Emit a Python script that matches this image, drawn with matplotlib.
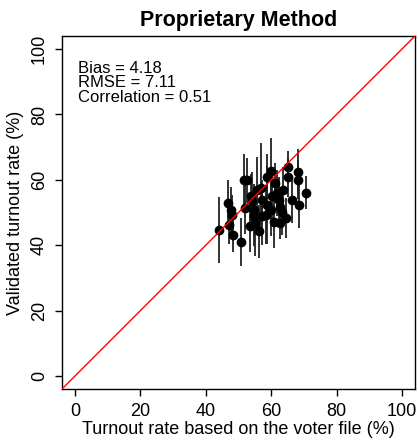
import matplotlib
matplotlib.use("Agg")
import matplotlib.pyplot as plt

plt.rcParams["font.family"] = ["Liberation Sans", "DejaVu Sans"]

# turnout by voter file (x), validated turnout (y), half-width of the bars
voter_file = [44.0, 46.9, 47.6, 48.1, 47.0, 48.3, 50.8, 51.6, 52.7, 52.1,
              53.7, 54.2, 54.7, 54.7, 55.2, 56.2, 57.2, 55.7, 56.8, 58.8,
              60.0, 58.8, 60.3, 61.3, 61.8, 62.3, 62.8, 62.8, 64.4, 65.1,
              65.1, 68.1, 68.1, 66.4, 68.6, 70.5, 59.8, 63.4, 57.3, 58.5,
              53.4, 61.0, 63.7]
validated = [44.7, 52.9, 50.8, 49.3, 46.3, 43.0, 40.9, 59.8, 59.8, 51.3,
             54.9, 53.4, 50.8, 48.8, 46.8, 44.2, 49.0, 56.9, 57.4, 61.0,
             62.8, 52.3, 54.9, 59.0, 55.9, 53.9, 51.8, 46.8, 48.3, 63.8,
             60.8, 62.3, 60.0, 53.9, 52.3, 56.1, 50.8, 50.2, 53.9, 49.3,
             45.9, 47.2, 56.9]
err_half = [10, 7, 7, 6, 6, 5, 7.4, 8, 7, 8,
            7, 9, 8, 9, 10, 8, 9, 10, 14, 7,
            10, 12, 8, 6, 7, 7, 6, 5, 6, 5,
            6, 7, 6, 7, 7, 5, 8, 7, 6, 9,
            8, 8, 7]

stats_text = "Bias = 4.18\nRMSE = 7.11\nCorrelation = 0.51"
ticks = [0, 20, 40, 60, 80, 100]

fig = plt.figure(figsize=(4.18, 4.45), dpi=100)
ax = fig.add_axes([62 / 418, 56 / 445, 353 / 418, 353 / 445])

ax.errorbar(voter_file, validated, yerr=err_half, fmt="o", color="black",
            ecolor="#222222", elinewidth=1.3, markersize=6, capsize=0, zorder=3)
ax.axline((0, 0), slope=1, color="red", lw=1, zorder=4)

ax.set_xlim(-4, 104)
ax.set_ylim(-4, 104)
ax.set_xticks(ticks)
ax.set_yticks(ticks)
ax.tick_params(direction="out", length=5, width=1, labelsize=13, pad=5)
for lab in ax.get_yticklabels():
    lab.set_rotation(90)
    lab.set_va("center")
for sp in ax.spines.values():
    sp.set_linewidth(1)

ax.text(0.045, 0.93, stats_text, transform=ax.transAxes, fontsize=12,
        va="top", ha="left", linespacing=0.95)

ax.set_title("Proprietary Method", fontsize=15.5, fontweight="bold", pad=7)
ax.set_xlabel("Turnout rate based on the voter file (%)", fontsize=13, labelpad=1)
ax.set_ylabel("Validated turnout rate (%)", fontsize=13, labelpad=5)

fig.savefig("out.png", dpi=100)
